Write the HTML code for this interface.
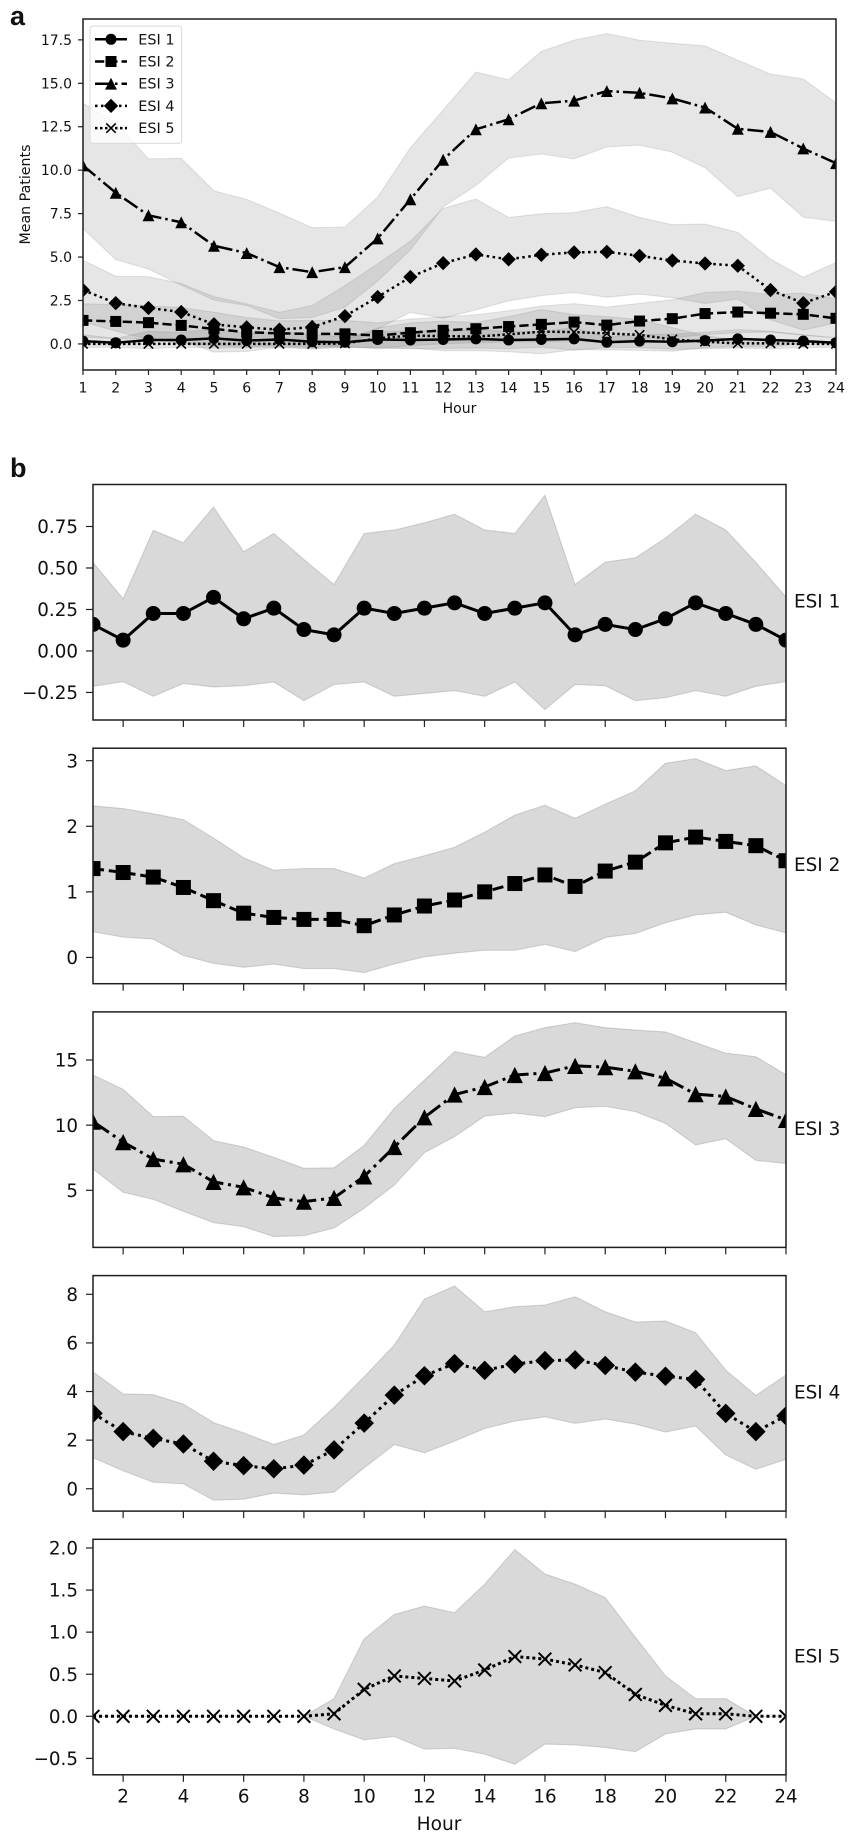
<!DOCTYPE html>
<html lang="en">
<head>
<meta charset="utf-8">
<title>Mean patients by hour and ESI level</title>
<style>
html,body{margin:0;padding:0;background:#fff;}
svg{display:block;}
text{font-family:"DejaVu Sans","Liberation Sans",sans-serif;fill:#111;}
</style>
</head>
<body>
<svg id="figure" xmlns="http://www.w3.org/2000/svg" width="851" height="1837" viewBox="0 0 851 1837"></svg>
<script>
const hours = [1,2,3,4,5,6,7,8,9,10,11,12,13,14,15,16,17,18,19,20,21,22,23,24];

const esi1Mean = [0.16,0.065,0.226,0.226,0.323,0.194,0.258,0.129,0.097,0.258,0.226,0.258,0.29,0.226,0.258,0.29,0.097,0.16,0.129,0.194,0.29,0.226,0.16,0.065];
const esi1Upper = [0.533,0.314,0.727,0.652,0.867,0.598,0.708,0.551,0.4,0.708,0.729,0.772,0.824,0.729,0.708,0.938,0.4,0.535,0.561,0.68,0.824,0.729,0.533,0.325];
const esi1Lower = [-0.213,-0.185,-0.273,-0.196,-0.217,-0.209,-0.187,-0.299,-0.202,-0.187,-0.273,-0.256,-0.239,-0.273,-0.187,-0.353,-0.202,-0.21,-0.3,-0.282,-0.239,-0.273,-0.213,-0.185];

const esi2Mean = [1.355,1.295,1.225,1.067,0.866,0.675,0.61,0.58,0.58,0.484,0.648,0.784,0.876,1.0,1.127,1.258,1.083,1.317,1.453,1.747,1.835,1.769,1.704,1.475];
const esi2Upper = [2.31,2.27,2.19,2.1,1.82,1.52,1.33,1.355,1.355,1.21,1.43,1.55,1.68,1.91,2.17,2.32,2.12,2.335,2.54,2.96,3.03,2.85,2.92,2.62];
const esi2Lower = [0.39,0.31,0.28,0.03,-0.09,-0.15,-0.1,-0.17,-0.17,-0.23,-0.1,0.01,0.065,0.11,0.11,0.2,0.09,0.305,0.365,0.53,0.65,0.69,0.495,0.375];

const esi3Mean = [10.27,8.7,7.4,7.0,5.65,5.23,4.42,4.13,4.42,6.07,8.32,10.6,12.35,12.93,13.85,14.0,14.55,14.45,14.13,13.6,12.38,12.2,11.25,10.4];
const esi3Upper = [13.85,12.75,10.65,10.68,8.81,8.32,7.53,6.69,6.73,8.45,11.29,13.46,15.64,15.2,16.84,17.48,17.86,17.48,17.3,17.15,16.33,15.53,15.25,13.87];
const esi3Lower = [6.64,4.85,4.31,3.39,2.52,2.21,1.45,1.52,2.11,3.62,5.41,7.89,9.12,10.7,10.93,10.65,11.34,11.44,11.04,10.14,8.48,8.96,7.3,7.05];

const esi4Mean = [3.1,2.35,2.07,1.84,1.13,0.95,0.82,0.97,1.6,2.7,3.85,4.65,5.15,4.87,5.13,5.27,5.3,5.07,4.8,4.63,4.5,3.1,2.35,3.0];
const esi4Upper = [4.81,3.9,3.87,3.48,2.72,2.3,1.82,2.21,3.35,4.61,5.91,7.8,8.34,7.28,7.49,7.56,7.9,7.28,6.86,6.9,6.42,4.88,3.84,4.68];
const esi4Lower = [1.28,0.74,0.27,0.2,-0.47,-0.43,-0.18,-0.25,-0.14,0.86,1.82,1.48,1.96,2.48,2.78,2.96,2.69,2.87,2.66,2.33,2.58,1.39,0.8,1.21];

const esi5Mean = [0,0,0,0,0,0,0,0,0.03,0.32,0.48,0.45,0.42,0.55,0.71,0.68,0.61,0.52,0.26,0.13,0.03,0.03,0,0];
const esi5Upper = [0,0,0,0,0,0,0,0,0.21,0.92,1.21,1.31,1.23,1.57,1.98,1.69,1.57,1.41,0.94,0.48,0.21,0.21,0,0];
const esi5Lower = [0,0,0,0,0,0,0,0,-0.15,-0.28,-0.24,-0.39,-0.38,-0.45,-0.57,-0.33,-0.34,-0.37,-0.42,-0.21,-0.15,-0.15,0,0];

const overviewYTicks = ["0.0","2.5","5.0","7.5","10.0","12.5","15.0","17.5"];
const overviewXTicks = [1,2,3,4,5,6,7,8,9,10,11,12,13,14,15,16,17,18,19,20,21,22,23,24];
const detailXTicks = [2,4,6,8,10,12,14,16,18,20,22,24];
const esi1YTicks = ["0.75","0.50","0.25","0.00","\u22120.25"];
const esi2YTicks = ["3","2","1","0"];
const esi3YTicks = ["15","10","5"];
const esi4YTicks = ["8","6","4","2","0"];
const esi5YTicks = ["2.0","1.5","1.0","0.5","0.0","\u22120.5"];
const seriesLabels = ["ESI 1","ESI 2","ESI 3","ESI 4","ESI 5"];

const svgNS = "http://www.w3.org/2000/svg";
const root = document.getElementById("figure");

function make(parent, tag, attrs, content) {
  const el = document.createElementNS(svgNS, tag);
  for (const k in attrs) el.setAttribute(k, attrs[k]);
  if (content !== undefined) el.textContent = content;
  parent.appendChild(el);
  return el;
}
function linearScale(d0, d1, r0, r1) {
  return function (v) { return r0 + (v - d0) * (r1 - r0) / (d1 - d0); };
}
function slug(label) { return label.toLowerCase().replace(/\s+/g, "-"); }
function tickValue(label) { return parseFloat(String(label).replace("\u2212", "-")); }

const seriesStyles = [
  { kind: "circle",   dash: [] },
  { kind: "square",   dash: [3.7, 1.6] },
  { kind: "triangle", dash: [6.4, 1.6, 1, 1.6] },
  { kind: "diamond",  dash: [1, 1.4] },
  { kind: "cross",    dash: [1, 1] }
];
const allSeries = [
  { mean: esi1Mean, upper: esi1Upper, lower: esi1Lower },
  { mean: esi2Mean, upper: esi2Upper, lower: esi2Lower },
  { mean: esi3Mean, upper: esi3Upper, lower: esi3Lower },
  { mean: esi4Mean, upper: esi4Upper, lower: esi4Lower },
  { mean: esi5Mean, upper: esi5Upper, lower: esi5Lower }
];

function dashFor(style, lw) {
  return style.dash.map(function (d) { return d * lw; }).join(" ");
}

function drawMarker(parent, kind, cx, cy, size, crossWidth, name) {
  const r = size / 2;
  let el;
  if (kind === "circle") {
    el = make(parent, "circle", { cx: cx, cy: cy, r: r, fill: "#000" });
  } else if (kind === "square") {
    el = make(parent, "rect", { x: cx - r, y: cy - r, width: size, height: size, fill: "#000" });
  } else if (kind === "triangle") {
    const t = r * 1.08;
    el = make(parent, "polygon", { points: cx + "," + (cy - t) + " " + (cx - t) + "," + (cy + t) + " " + (cx + t) + "," + (cy + t), fill: "#000" });
  } else if (kind === "diamond") {
    const d = r * 1.3;
    el = make(parent, "polygon", { points: cx + "," + (cy - d) + " " + (cx + d) + "," + cy + " " + cx + "," + (cy + d) + " " + (cx - d) + "," + cy, fill: "#000" });
  } else {
    const c = r * 0.85;
    el = make(parent, "path", { d: "M" + (cx - c) + " " + (cy - c) + "L" + (cx + c) + " " + (cy + c) + "M" + (cx - c) + " " + (cy + c) + "L" + (cx + c) + " " + (cy - c), fill: "none", stroke: "#000", "stroke-width": crossWidth });
  }
  
  
}

function drawBand(parent, s, x, y, opacity, name) {
  const upperPts = hours.map(function (h, i) { return x(h) + "," + y(s.upper[i]); });
  const lowerPts = hours.map(function (h, i) { return x(h) + "," + y(s.lower[i]); }).reverse();
  const band = make(parent, "polygon", { points: upperPts.concat(lowerPts).join(" "), fill: "#808080", "fill-opacity": opacity, stroke: "#808080", "stroke-opacity": opacity, "stroke-width": 1.1 });
  
  
}

function drawLine(parent, s, style, x, y, lw, ms, crossWidth, prefix) {
  const pts = hours.map(function (h, i) { return x(h) + "," + y(s.mean[i]); }).join(" ");
  const attrs = { points: pts, fill: "none", stroke: "#000", "stroke-width": lw };
  if (style.dash.length) attrs["stroke-dasharray"] = dashFor(style, lw);
  const line = make(parent, "polyline", attrs);
  
  
  hours.forEach(function (h, i) {
    drawMarker(parent, style.kind, x(h), y(s.mean[i]), ms, crossWidth, prefix + '-point-' + h);
  });
}

function drawFrame(parent, box, name) {
  const frame = make(parent, "rect", { x: box.left, y: box.top, width: box.right - box.left, height: box.bottom - box.top, fill: "none", stroke: "#1e1e1e", "stroke-width": 1.5 });
  
  
}

function drawYTicks(parent, labels, y, box, tickLen, fontSize, labelX, baseOffset, prefix) {
  labels.forEach(function (label) {
    const py = y(tickValue(label));
    const tick = make(parent, "line", { x1: box.left - tickLen, x2: box.left, y1: py, y2: py, stroke: "#222", "stroke-width": 1.2 });
    
    
    const txt = make(parent, "text", { x: labelX, y: py + baseOffset, "text-anchor": "end", "font-size": fontSize }, label);
    
    
  });
}

function drawXTicks(parent, ticks, x, box, tickLen, prefix) {
  ticks.forEach(function (h) {
    const tick = make(parent, "line", { x1: x(h), x2: x(h), y1: box.bottom, y2: box.bottom + tickLen, stroke: "#222", "stroke-width": 1.2 });
    
    
  });
}

function drawXLabels(parent, ticks, x, baseline, fontSize, prefix) {
  ticks.forEach(function (h) {
    const txt = make(parent, "text", { x: x(h), y: baseline, "text-anchor": "middle", "font-size": fontSize }, String(h));
    
    
  });
}

function addClip(id, box) {
  const clip = make(root, "clipPath", { id: id });
  make(clip, "rect", { x: box.left, y: box.top, width: box.right - box.left, height: box.bottom - box.top });
}

/* Panel letters */
const letterA = make(root, "text", { x: 10, y: 25, "font-size": 27, "font-weight": "bold", style: "font-family:'Liberation Sans',sans-serif" }, "a");


const letterB = make(root, "text", { x: 10, y: 477, "font-size": 27, "font-weight": "bold", style: "font-family:'Liberation Sans',sans-serif" }, "b");



/* Panel a: all series overlaid */
(function () {
  const box = { left: 83, right: 836, top: 19, bottom: 370 };
  const x = linearScale(1, 24, box.left, box.right);
  const y = linearScale(18.7, -1.5, box.top, box.bottom);
  addClip("clip-overview", box);
  const g = make(root, "g", {});
  
  
  const plot = make(g, "g", { "clip-path": "url(#clip-overview)" });
  
  
  allSeries.forEach(function (s, i) {
    drawBand(plot, s, x, y, 0.2, 'overview-band-esi-' + (i + 1));
  });
  [4, 3, 2, 1, 0].forEach(function (i) {
    drawLine(plot, allSeries[i], seriesStyles[i], x, y, 2.5, 11, 1.6, 'overview-esi-' + (i + 1));
  });
  drawFrame(g, box, 'overview-frame');
  drawYTicks(g, overviewYTicks, y, box, 5, 14, 72, 5, 'overview');
  drawXTicks(g, overviewXTicks, x, box, 5, 'overview');
  drawXLabels(g, overviewXTicks, x, 392.5, 14, 'overview');
  const xTitle = make(g, "text", { x: 459.5, y: 413, "text-anchor": "middle", "font-size": 14 }, "Hour");
  
  
  const yTitle = make(g, "text", { x: 0, y: 0, "text-anchor": "middle", "font-size": 14.2, transform: "translate(30,194.5) rotate(-90)" }, "Mean Patients");
  
  

  const legend = make(g, "g", {});
  
  
  const legendBox = make(legend, "rect", { x: 90, y: 26, width: 91.7, height: 117.3, rx: 3, ry: 3, fill: "#fff", "fill-opacity": 0.8, stroke: "#d8d8d8", "stroke-width": 1 });
  
  
  seriesLabels.forEach(function (label, i) {
    const ly = 39.3 + i * 22.2;
    const entry = make(legend, "g", {});
    
    
    const attrs = { x1: 95, x2: 127, y1: ly, y2: ly, stroke: "#000", "stroke-width": 2.5 };
    if (seriesStyles[i].dash.length) attrs["stroke-dasharray"] = dashFor(seriesStyles[i], 2.5);
    const sample = make(entry, "line", attrs);
    
    
    drawMarker(entry, seriesStyles[i].kind, 111, ly, 11, 1.6, 'legend-marker-' + slug(label));
    const txt = make(entry, "text", { x: 138.3, y: ly + 5, "font-size": 14.4 }, label);
    
    
  });
})();

/* Panel b: one small panel per series */
const detailDomains = [[1.003, -0.416], [3.19, -0.40], [18.69, 0.62], [8.77, -0.92], [2.103, -0.695]];
const detailTicks = [esi1YTicks, esi2YTicks, esi3YTicks, esi4YTicks, esi5YTicks];

detailDomains.forEach(function (domain, i) {
  const top = 484.5 + i * 263.7;
  const box = { left: 93, right: 786, top: top, bottom: top + 235.5 };
  const prefix = 'esi-' + (i + 1) + '-panel';
  const x = linearScale(1, 24, box.left, box.right);
  const y = linearScale(domain[0], domain[1], box.top, box.bottom);
  addClip("clip-" + prefix, box);
  const g = make(root, "g", {});
  
  
  const plot = make(g, "g", { "clip-path": "url(#clip-" + prefix + ")" });
  
  
  drawBand(plot, allSeries[i], x, y, 0.3, prefix + '-band');
  drawLine(plot, allSeries[i], seriesStyles[i], x, y, 3, 15, 2, prefix);
  drawFrame(g, box, prefix + '-frame');
  drawYTicks(g, detailTicks[i], y, box, 7, 18.3, 78, 6.6, prefix);
  drawXTicks(g, detailXTicks, x, box, 7, prefix);
  const side = make(g, "text", { x: 794, y: box.top + 123, "font-size": 18.4 }, seriesLabels[i]);
  
  
  if (i === 4) {
    drawXLabels(g, detailXTicks, x, 1802.7, 18.3, prefix);
    const title = make(g, "text", { x: 439, y: 1830, "text-anchor": "middle", "font-size": 18.6 }, "Hour");
    
    
  }
});
</script>
</body>
</html>
